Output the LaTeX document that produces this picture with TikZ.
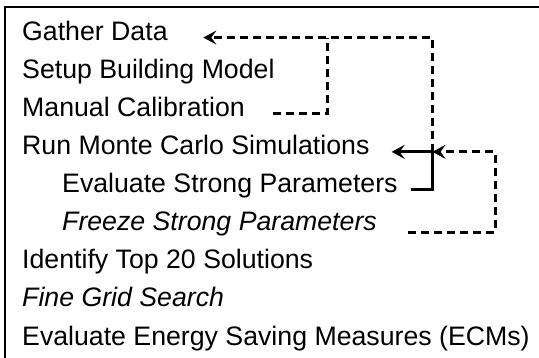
\documentclass[tikz,border=0pt]{standalone}
\usepackage{fontspec}
\setmainfont{Liberation Sans}
\usetikzlibrary{arrows.meta, positioning}
\tikzset{%
	task/.style={
		anchor=base west,
		inner sep=0pt,
		font=\fontsize{26.7}{32}\selectfont
	},
	feedback/.style={
		line width=3pt,
		dash pattern=on 8pt off 5pt
	},
	flow/.style={
		line width=3pt
	},
	back tip/.style={-{Stealth[length=13pt, width=14pt, inset=5pt]}},
}

\begin{document}
\begin{tikzpicture}[x=1pt, y=-1pt]
	\useasboundingbox (0,0) rectangle (539,357);
	\clip (0,0) rectangle (539,357);
	
	% frame round the list
	\draw[line width=1.8pt] (5,7) rectangle (600,420);
	
	% Steps of the workflow
	\node[task] (gather) at (22,40.2) {Gather Data};
	\node[task] (setup) at (22,78.3) {Setup Building Model};
	\node[task] (calib) at (22,116.4) {Manual Calibration};
	\node[task] (run) at (22,154.5) {Run Monte Carlo Simulations};
	\node[task] (evalstrong) at (62,192.6) {Evaluate Strong Parameters};
	\node[task] (freeze) at (62,230.7) {\itshape Freeze Strong Parameters};
	\node[task] (top) at (22,268.8) {Identify Top 20 Solutions};
	\node[task] (grid) at (22,306.9) {\itshape Fine Grid Search};
	\node[task] (ecm) at (22,345) {Evaluate Energy Saving Measures (ECMs)};
	
	% columns of the return lines
	\coordinate (colcalib) at (327,0);
	\coordinate (colmid) at (432.5,0);
	\coordinate (colfreeze) at (495,0);
	\coordinate (join) at (run.mid -| colmid);
	
	% loops back
	\draw[flow, back tip] ([xshift=13pt]evalstrong.mid east) -| (join) -- ([xshift=22pt]run.mid east);
	\draw[feedback, back tip] ([xshift=31pt, yshift=-4pt]freeze.mid east) -| (run.mid -| colfreeze) -- (join);
	\draw[feedback] ([xshift=28pt]calib.mid east) -| (gather.mid -| colcalib);
	\draw[feedback, back tip] (join) |- ([xshift=35.5pt]gather.mid east);
	
\end{tikzpicture}
\end{document}
